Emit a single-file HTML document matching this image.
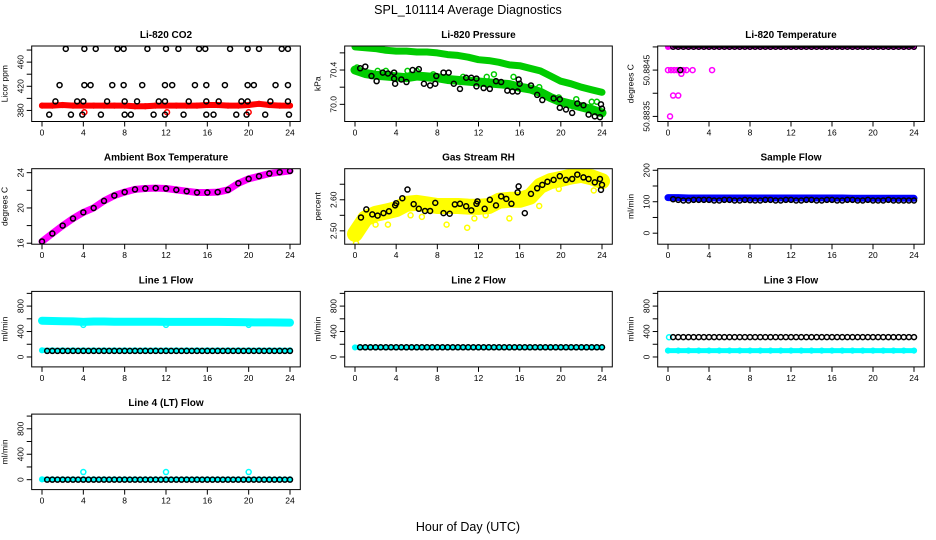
<!DOCTYPE html>
<html><head><meta charset="utf-8"><style>
html,body{margin:0;padding:0;background:#fff}
svg{display:block;font-family:"Liberation Sans",sans-serif}
</style></head><body>
<svg id="chart" width="936" height="540" viewBox="0 0 936 540">
<text x="468" y="14" text-anchor="middle" font-size="12.5">SPL_101114  Average Diagnostics</text>
<text x="468" y="531" text-anchor="middle" font-size="12.5">Hour of Day (UTC)</text>
</svg>
<script>
// ---------- data ----------
const xTicks=[0,4,8,12,16,20,24];
const hourly=[0,1,2,3,4,5,6,7,8,9,10,11,12,13,14,15,16,17,18,19,20,21,22,23,24];
const halfHours=[0.5,1,1.5,2,2.5,3,3.5,4,4.5,5,5.5,6,6.5,7,7.5,8,8.5,9,9.5,10,10.5,11,11.5,12,12.5,13,13.5,14,14.5,15,15.5,16,16.5,17,17.5,18,18.5,19,19.5,20,20.5,21,21.5,22,22.5,23,23.5,24];

// CO2
const co2Red=[388,388,389,388,388,388,388,388,388,387,387,388,388,388,388,388,389,389,388,388,389,391,389,388,388];
const co2RedOutH=[4.1,12.1,20.0];
const co2RedOutV=[377,377,377];
const co2BlackH=[2.3,4.1,5.2,7.3,7.9,10.2,12.0,13.2,15.2,15.8,18.2,19.9,21.0,23.2,23.8,
 1.7,4.1,4.7,6.8,7.9,9.7,11.9,12.6,14.8,15.9,17.7,19.9,20.5,22.6,23.8,
 1.3,3.4,4.0,6.3,8.0,9.2,11.3,11.9,14.2,15.9,17.1,19.3,19.9,22.1,23.8,
 0.7,2.8,3.9,5.7,8.0,8.6,10.8,11.9,13.7,15.9,16.6,18.8,19.8,21.6,23.9];
const co2BlackV=[482,482,482,482,482,482,482,482,482,482,482,482,482,482,482,
 422,422,422,422,422,422,422,422,422,422,422,422,422,422,422,
 395,395,395,395,395,395,395,395,395,395,395,395,395,395,395,
 373,373,373,373,373,373,373,373,373,373,373,373,373,373,373];

// Pressure
const presUpper=[70.67,70.66,70.65,70.63,70.62,70.62,70.61,70.61,70.60,70.58,70.57,70.55,70.52,70.51,70.49,70.46,70.45,70.42,70.39,70.33,70.27,70.24,70.20,70.17,70.14];
const presLower=[70.40,70.36,70.34,70.33,70.32,70.31,70.33,70.32,70.31,70.29,70.28,70.27,70.26,70.25,70.24,70.23,70.20,70.18,70.14,70.08,70.03,70.00,69.97,69.94,69.90];
const presGreenH=[0.2,2.2,5.1,7.6,10.5,12.8,13.5,15.4,17.9,19.8,21.5,23.0,23.5,3.0,6.0];
const presGreenV=[70.43,70.39,70.39,70.35,70.32,70.32,70.35,70.32,70.20,70.08,70.06,70.03,70.03,70.39,70.39];
const presBlackH=[0.5,1.0,1.6,2.1,2.7,3.2,3.8,3.8,3.9,4.5,5.0,5.6,6.2,6.7,7.3,7.8,7.9,8.6,9.1,9.6,10.2,10.8,11.3,11.8,11.8,12.5,13.1,13.7,14.2,14.8,15.3,15.8,15.9,16.0,17.1,17.7,18.2,19.3,19.9,19.9,20.5,21.1,21.6,22.2,22.7,23.3,23.8,23.9,24.0];
const presBlackV=[70.42,70.44,70.33,70.27,70.37,70.36,70.37,70.30,70.24,70.29,70.26,70.40,70.41,70.24,70.22,70.24,70.33,70.37,70.37,70.24,70.18,70.31,70.31,70.30,70.21,70.19,70.18,70.27,70.26,70.16,70.15,70.15,70.29,70.24,70.22,70.11,70.05,70.07,70.06,69.96,69.94,69.90,70.01,69.99,69.88,69.86,69.85,70.00,69.95];

// Li-820 temperature
const tmpMagH=[0.0,0.3,0.6,0.9,1.2,1.5,1.8,2.4,4.3,1.3,0.5,1.0,0.2];
const tmpMagV=[50.8845,50.8845,50.8845,50.8845,50.8845,50.8845,50.8845,50.8845,50.8845,50.88442,50.88395,50.88395,50.88350];
const tmpTop=50.885;
const tmpBlackH=[1.2];
const tmpBlackV=[50.8845];

// Ambient temperature
const ambTemp=[16.2,17.1,18.0,18.8,19.5,20.0,20.8,21.4,21.8,22.1,22.2,22.25,22.2,22.05,21.9,21.75,21.75,21.8,22.05,22.8,23.3,23.6,23.9,24.05,24.2];

// RH
const rhYellow=[2.49,2.54,2.555,2.562,2.57,2.587,2.59,2.585,2.58,2.58,2.58,2.578,2.577,2.58,2.597,2.60,2.60,2.61,2.645,2.66,2.667,2.675,2.68,2.672,2.66];
const rhYelOutH=[0.1,0.3,0.6,2.0,3.2,5.4,6.5,8.9,10.9,11.6,12.7,15.0,17.9,19.8,23.2,0.0];
const rhYelOutV=[2.46,2.50,2.51,2.52,2.52,2.55,2.545,2.52,2.51,2.54,2.55,2.54,2.58,2.635,2.63,2.485];
const rhBlackH=[0.58,1.1,1.68,2.2,2.77,3.3,3.9,4.0,4.6,5.1,5.7,6.2,6.8,7.3,7.8,8.6,9.2,9.7,10.2,10.8,11.3,11.8,11.9,12.6,13.1,13.7,14.2,14.7,15.2,15.8,15.9,16.5,17.1,17.7,18.2,18.7,19.3,19.9,20.5,21.1,21.6,22.2,22.7,23.3,23.8,24.0,23.9];
const rhBlackV=[2.543,2.569,2.553,2.549,2.557,2.563,2.582,2.589,2.605,2.633,2.586,2.571,2.564,2.564,2.59,2.557,2.555,2.585,2.587,2.579,2.566,2.587,2.595,2.571,2.60,2.582,2.611,2.603,2.587,2.624,2.643,2.557,2.619,2.637,2.648,2.658,2.664,2.676,2.664,2.667,2.681,2.672,2.667,2.656,2.667,2.648,2.632];

// Sample flow
const sfBlue=[113,113,112,112,112,112,112,112,112,112,112,112,112,112,112,112,112,112,111,111,111,111,111,111,111];
const sfBlack=[108,106,104,104,106,106,106,106,104,104,106,106,104,104,106,105,104,104,106,106,104,104,106,106,104,104,106,106,104,104,106,106,104,104,106,106,104,104,106,104,104,104,106,104,104,104,104,104];

// Line flows
const l1Upper=[570,566,563,560,552,558,557,555,555,554,554,553,552,552,552,552,552,551,550,548,545,544,543,542,541];
const l1Lower=[105,105,105,105,105,105,105,105,105,105,105,105,105,105,105,105,105,105,105,105,105,105,105,105,105];
const l1OutH=[4.0,12.0,20.0];
const l1OutV=[505,505,505];
const l1Black=[95,95,95,95,95,95,95,95,95,95,95,95,95,95,95,95,95,95,95,95,95,95,95,95,95,95,95,95,95,95,95,95,95,95,95,95,95,95,95,95,95,95,95,95,95,95,95,95];
const l2Cyan=[150,150,150,150,150,150,150,150,150,150,150,150,150,150,150,150,150,150,150,150,150,150,150,150,150];
const l2Black=[152,152,152,152,152,152,152,152,152,152,152,152,152,152,152,152,152,152,152,152,152,152,152,152,152,152,152,152,152,152,152,152,152,152,152,152,152,152,152,152,152,152,152,152,152,152,152,152];
const l3Cyan=[100,100,100,100,100,100,100,100,100,100,100,100,100,100,100,100,100,100,100,100,100,100,100,100,100];
const l3Black=[312,312,312,312,312,312,312,312,312,312,312,312,312,312,312,312,312,312,312,312,312,312,312,312,312,312,312,312,312,312,312,312,312,312,312,312,312,312,312,312,312,312,312,312,312,312,312,312];
const l4Cyan=[5,5,5,5,5,5,5,5,5,5,5,5,5,5,5,5,5,5,5,5,5,5,5,5,5];
const l4OutH=[4.0,12.0,20.0];
const l4OutV=[120,120,120];
const l4Black=[0,0,0,0,0,0,0,0,0,0,0,0,0,0,0,0,0,0,0,0,0,0,0,0,0,0,0,0,0,0,0,0,0,0,0,0,0,0,0,0,0,0,0,0,0,0,0,0];

// ---------- drawing ----------
const NS='http://www.w3.org/2000/svg';
const svg=document.getElementById('chart');
function mk(tag,attrs,parent){const e=document.createElementNS(NS,tag);for(const k in attrs)e.setAttribute(k,attrs[k]);(parent||svg).appendChild(e);return e;}

function panel(col,row,title,ylab,ylo,yhi,ticks,labels,slug){
  const X0=[42,355,668][col],X24=[290,602,914][col];
  const top=46+122.7*row,bot=top+75.5,left=X0-10.3,right=X24+10.3;
  const g=mk('g',{});
  
  
  const sx=h=>X0+h*(X24-X0)/24;
  const sy=v=>bot-(v-ylo)/(yhi-ylo)*(bot-top);
  const t=mk('text',{x:(left+right)/2,y:top-8,'text-anchor':'middle','font-size':'10','font-weight':'bold'},g);
  t.textContent=title;
  
  
  const yl=mk('text',{transform:`translate(${left-24},${(top+bot)/2}) rotate(-90)`,'text-anchor':'middle','font-size':'8.5'},g);
  yl.textContent=ylab;
  
  
  const clip='clip'+slug;
  const cp=mk('clipPath',{id:clip},g);mk('rect',{x:left,y:top,width:right-left,height:bot-top},cp);
  const plot=mk('g',{'clip-path':`url(#${clip})`},g);
  
  
  const box=mk('rect',{x:left,y:top,width:right-left,height:bot-top,fill:'none',stroke:'#000','stroke-width':1},g);
  
  
  const ax=mk('g',{stroke:'#000','stroke-width':1},g);
  
  
  xTicks.forEach(h=>{
    mk('line',{x1:sx(h),x2:sx(h),y1:bot,y2:bot+5},ax);
    const tl=mk('text',{x:sx(h),y:bot+14,'text-anchor':'middle','font-size':'8.5',stroke:'none'},ax);
    tl.textContent=String(h);
    
    
  });
  const ay=mk('g',{stroke:'#000','stroke-width':1},g);
  
  
  ticks.forEach((v,i)=>{
    const y=sy(v);
    mk('line',{x1:left-5,x2:left,y1:y,y2:y},ay);
    if(labels[i]){
      const tl=mk('text',{transform:`translate(${left-8},${y}) rotate(-90)`,'text-anchor':'middle','font-size':'8.5',stroke:'none'},ay);
      tl.textContent=labels[i];
      
      
    }
  });
  return {plot,sx,sy,slug};
}
function band(p,hs,vs,color,w,name){
  const d=hs.map((h,i)=>(i?'L':'M')+p.sx(h).toFixed(1)+','+p.sy(vs[i]).toFixed(1)).join('');
  const e=mk('path',{d,fill:'none',stroke:color,'stroke-width':w,'stroke-linejoin':'round','stroke-linecap':'round'},p.plot);
  
  
  hs.forEach((h,i)=>{
    const c=mk('circle',{cx:p.sx(h),cy:p.sy(vs[i]),r:2.4,fill:'none',stroke:color,'stroke-width':1.4},p.plot);
    
    
  });
}
function pts(p,hs,vs,color,name){
  hs.forEach((h,i)=>{
    const c=mk('circle',{cx:p.sx(h),cy:p.sy(vs[i]),r:2.5,fill:'none',stroke:color,'stroke-width':1.5},p.plot);
    
    
  });
}
const RED='#ff0000',GRN='#00cc00',MAG='#ff00ff',YEL='#ffff00',BLU='#0000ff',CYN='#00ffff',BLK='#000';

// Panel 1: CO2
let p=panel(0,0,'Li-820 CO2','Licor ppm',361.7,486.7,[380,400,420,440,460,480],['380','','420','','460',''],'co2');
band(p,hourly,co2Red,RED,6,'co2-red-series');
pts(p,co2RedOutH,co2RedOutV,RED,'co2-red-outlier');
pts(p,co2BlackH,co2BlackV,BLK,'co2-black-point');

// Panel 2: Pressure
p=panel(1,0,'Li-820 Pressure','kPa',69.8,70.68,[70.0,70.2,70.4,70.6],['70.0','','70.4',''],'pressure');
band(p,hourly,presUpper,GRN,7,'pressure-green-upper');
band(p,hourly,presLower,GRN,9,'pressure-green-lower');
pts(p,presGreenH,presGreenV,GRN,'pressure-green-point');
pts(p,presBlackH,presBlackV,BLK,'pressure-black-point');

// Panel 3: Li-820 temperature
p=panel(2,0,'Li-820 Temperature','degrees C',50.88339,50.88502,[50.8835,50.884,50.8845,50.885],['50.8835','','50.8845',''],'li820-temp');
band(p,hourly,hourly.map(()=>tmpTop),MAG,5,'li820-temp-magenta');
band(p,halfHours,halfHours.map(()=>tmpTop),BLK,2,'li820-temp-black');
pts(p,tmpMagH,tmpMagV,MAG,'li820-temp-magenta-point');
pts(p,tmpBlackH,tmpBlackV,BLK,'li820-temp-black-point');

// Panel 4: ambient
p=panel(0,1,'Ambient Box Temperature','degrees C',15.89,24.45,[16,18,20,22,24],['16','','20','','24'],'ambient');
band(p,hourly,ambTemp,MAG,7,'ambient-magenta');
pts(p,hourly,ambTemp,BLK,'ambient-black-point');

// Panel 5: RH
p=panel(1,1,'Gas Stream RH','percent',2.457,2.70,[2.50,2.55,2.60,2.65],['2.50','','2.60',''],'rh');
band(p,hourly,rhYellow,YEL,16,'rh-yellow-band');
pts(p,rhYelOutH,rhYelOutV,YEL,'rh-yellow-point');
pts(p,rhBlackH,rhBlackV,BLK,'rh-black-point');

// Panel 6: Sample flow
p=panel(2,1,'Sample Flow','ml/min',-35,205,[0,50,100,150,200],['0','','100','','200'],'sample-flow');
band(p,hourly,sfBlue,BLU,7,'sample-flow-blue');
pts(p,halfHours,sfBlack,BLK,'sample-flow-black-point');

// Line flows
const fTicks=[0,200,400,600,800,1000],fLabels=['0','','400','','800',''];
p=panel(0,2,'Line 1 Flow','ml/min',-156,1031,fTicks,fLabels,'line1');
band(p,hourly,l1Upper,CYN,8,'line1-cyan-upper');
band(p,hourly,l1Lower,CYN,5,'line1-cyan-lower');
pts(p,l1OutH,l1OutV,CYN,'line1-cyan-outlier');
pts(p,halfHours,l1Black,BLK,'line1-black-point');

p=panel(1,2,'Line 2 Flow','ml/min',-156,1031,fTicks,fLabels,'line2');
band(p,hourly,l2Cyan,CYN,5,'line2-cyan');
pts(p,halfHours,l2Black,BLK,'line2-black-point');

p=panel(2,2,'Line 3 Flow','ml/min',-156,1031,fTicks,fLabels,'line3');
band(p,hourly,l3Cyan,CYN,5,'line3-cyan');
pts(p,[0.1],[310],CYN,'line3-cyan-point');
pts(p,halfHours,l3Black,BLK,'line3-black-point');

p=panel(0,3,'Line 4 (LT) Flow','ml/min',-156,1031,fTicks,fLabels,'line4');
band(p,hourly,l4Cyan,CYN,5,'line4-cyan');
pts(p,l4OutH,l4OutV,CYN,'line4-cyan-outlier');
pts(p,halfHours,l4Black,BLK,'line4-black-point');
</script>
</body></html>
